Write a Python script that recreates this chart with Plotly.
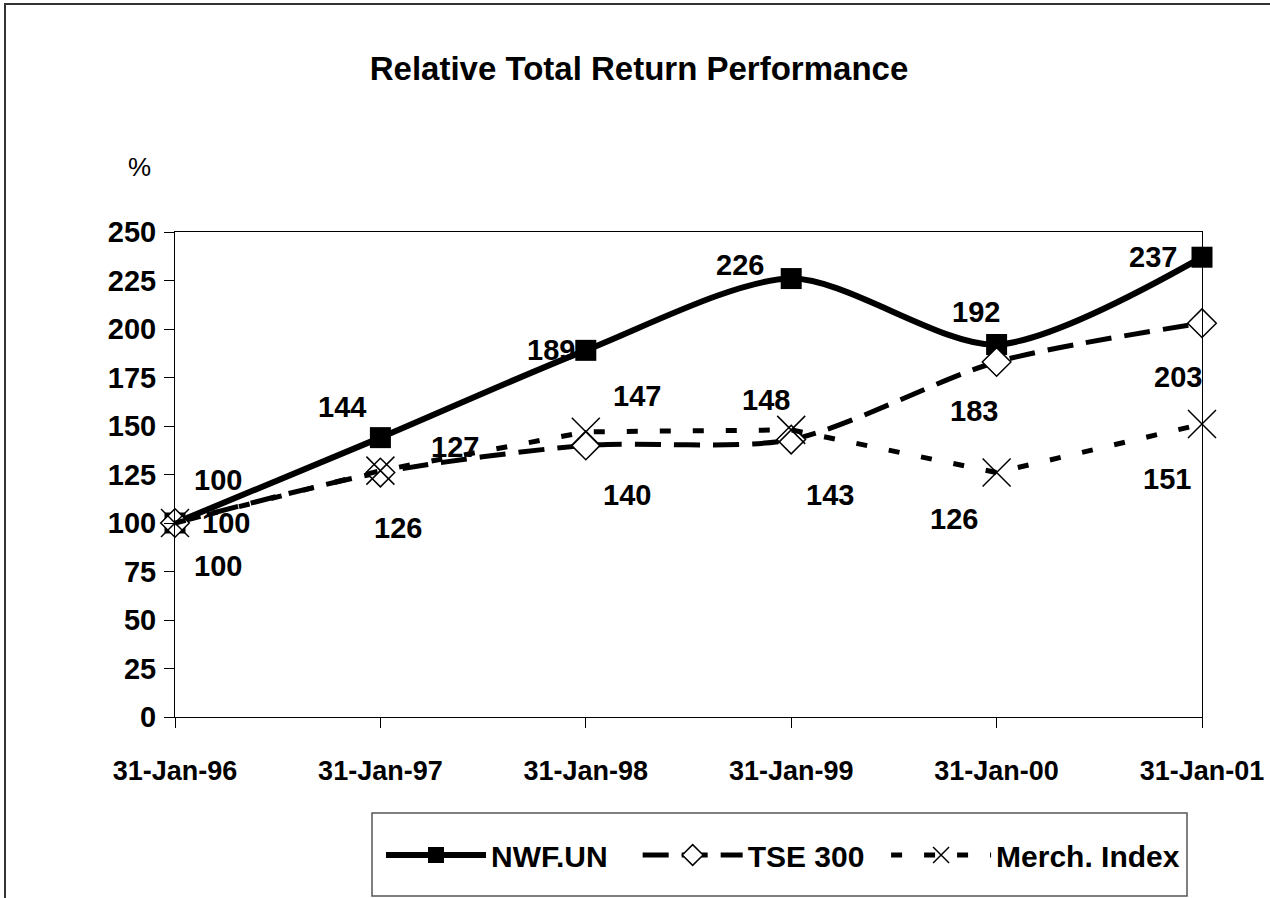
import plotly.graph_objects as go

# ---- data ----
dates = ["31-Jan-96", "31-Jan-97", "31-Jan-98", "31-Jan-99", "31-Jan-00", "31-Jan-01"]
nwf_un = [100, 144, 189, 226, 192, 237]
tse_300 = [100, 126, 140, 143, 183, 203]
merch_index = [100, 127, 147, 148, 126, 151]
y_ticks = [0, 25, 50, 75, 100, 125, 150, 175, 200, 225, 250]

# ---- label offsets (pixels, style only) ----
nwf_off = [(43, -43), (-38, -31), (-35, 0), (-51, -14), (-21, -33), (-49, 0)]
tse_off = [(43, 43), (18, 55), (41, 50), (39, 55), (-23, 49), (-24, 54)]
merch_off = [(51, 0), (75, -24), (51, -36), (-25, -30), (-43, 46), (-35, 55)]

FONT = "Liberation Sans, Arial, sans-serif"
xi = list(range(len(dates)))

# plot area in page pixels
L, R, T, B = 175, 1202, 232, 717
W, H = 1270, 898
PW, PH = R - L, B - T


def px(x):
    return (x - L) / PW


def py(y):
    return (B - y) / PH


fig = go.Figure()
fig.add_trace(go.Scatter(
    x=xi, y=nwf_un, name="<b>NWF.UN</b>" + "&nbsp;" * 3, mode="lines+markers",
    line=dict(color="black", width=6, shape="spline", smoothing=0.8),
    marker=dict(symbol="square", size=21, color="black"),
    cliponaxis=False))
fig.add_trace(go.Scatter(
    x=xi, y=tse_300, name="<b>TSE 300</b>" + "&nbsp;" * 2, mode="lines+markers",
    line=dict(color="black", width=5, dash="26px,13px", shape="spline", smoothing=0.8),
    marker=dict(symbol="diamond", size=22, color="white", line=dict(color="black", width=1.5)),
    cliponaxis=False))
fig.add_trace(go.Scatter(
    x=xi, y=merch_index, name="<b>Merch. Index</b>", mode="lines+markers",
    line=dict(color="black", width=5, dash="11px,22px"),
    marker=dict(symbol="x-thin", size=28, color="black", line=dict(color="black", width=1.5)),
    cliponaxis=False))

annotations = []
for vals, offs in ((nwf_un, nwf_off), (tse_300, tse_off), (merch_index, merch_off)):
    for i, (v, (dx, dy)) in enumerate(zip(vals, offs)):
        annotations.append(dict(
            x=i, y=v, xref="x", yref="y", text="<b>%d</b>" % v, showarrow=False,
            xshift=dx, yshift=-dy, font=dict(family=FONT, size=29, color="black"),
            xanchor="center", yanchor="middle"))

annotations.append(dict(
    x=px(139), y=py(167), xref="paper", yref="paper", text="%", showarrow=False,
    font=dict(family=FONT, size=26, color="black"), xanchor="center", yanchor="middle"))

fig.update_layout(
    width=W, height=H,
    margin=dict(l=L, r=W - R, t=T, b=H - B, pad=0, autoexpand=False),
    paper_bgcolor="white", plot_bgcolor="white",
    font=dict(family=FONT, color="black"),
    title=dict(text="<b>Relative Total Return Performance</b>", x=639 / W, xref="container",
               y=1 - 68 / H, yref="container", xanchor="center", yanchor="middle",
               font=dict(family=FONT, size=33, color="black")),
    xaxis=dict(range=[0, 5], tickvals=xi, ticktext=["<b>%s</b>" % d for d in dates],
               showline=True, linecolor="black", linewidth=1, mirror=True,
               ticks="outside", ticklen=10, tickcolor="black", showgrid=False, zeroline=False,
               tickfont=dict(family=FONT, size=27, color="black"), ticklabelstandoff=20),
    yaxis=dict(range=[0, 250], tickvals=y_ticks, ticktext=["<b>%d</b>" % t for t in y_ticks],
               showline=True, linecolor="black", linewidth=1, mirror=True,
               ticks="outside", ticklen=10, tickcolor="black", showgrid=False, zeroline=False,
               tickfont=dict(family=FONT, size=29, color="black"), ticklabelstandoff=2),
    yaxis2=dict(range=[0, 250], tickvals=y_ticks, overlaying="y", side="left",
                showticklabels=False, ticks="inside", ticklen=8, tickcolor="black",
                showline=False, showgrid=False, zeroline=False),
    legend=dict(orientation="h", x=px(381), y=py(855), xanchor="left", yanchor="middle",
                borderwidth=0, bgcolor="rgba(0,0,0,0)",
                font=dict(family=FONT, size=30, color="black"),
                itemwidth=100, tracegroupgap=0),
    annotations=annotations,
    shapes=[
        dict(type="rect", xref="paper", yref="paper",
             x0=px(5), x1=px(1400), y0=py(1000), y1=py(4),
             line=dict(color="#333333", width=2), layer="below"),
        dict(type="rect", xref="paper", yref="paper",
             x0=px(372), x1=px(1187), y0=py(896), y1=py(813),
             line=dict(color="#555555", width=1.5), fillcolor="white", layer="below"),
    ],
    showlegend=True,
)

fig.write_html("out.html", config={"displayModeBar": False},
               post_script="document.body.style.margin='0px';")
